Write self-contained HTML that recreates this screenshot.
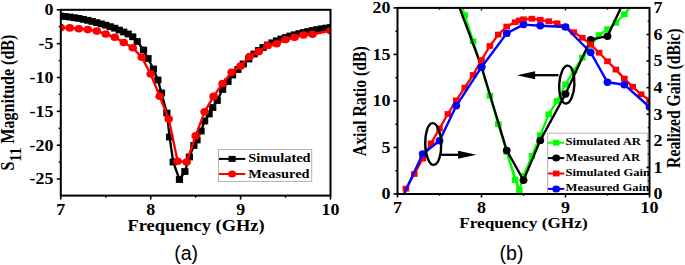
<!DOCTYPE html>
<html><head><meta charset="utf-8"><style>
html,body{margin:0;padding:0;background:#fff;}
svg{display:block;}
</style></head><body>
<svg width="685" height="265" viewBox="0 0 685 265">
<defs>
<clipPath id="clipA"><rect x="60.80" y="9.80" width="269.70" height="185.80"/></clipPath>
<clipPath id="clipB"><rect x="397.50" y="7.90" width="252.00" height="186.10"/></clipPath>
</defs>
<rect width="685" height="265" fill="#fff"/>
<g clip-path="url(#clipA)">
<polyline points="60.80,16.00 65.29,16.50 69.79,17.00 74.29,17.70 78.78,18.40 83.27,19.35 87.77,20.30 92.26,21.45 96.76,22.60 101.26,23.90 105.75,25.20 110.24,26.70 114.74,28.20 119.24,30.10 123.73,32.00 128.22,34.00 132.72,36.80 137.21,41.50 143.51,50.00 148.00,58.50 153.40,69.00 157.89,80.00 161.49,93.00 166.88,113.00 169.58,137.00 173.18,162.00 179.47,179.50 184.86,171.50 189.36,157.00 193.85,145.50 197.00,140.00 201.04,131.00 204.64,121.00 209.13,114.00 212.73,107.50 217.23,100.50 222.62,89.50 228.01,81.50 232.51,75.00 237.90,69.50 243.30,64.00 248.69,59.00 254.08,54.00 258.58,50.50 263.07,47.50 267.57,45.00 272.06,42.80 276.56,40.80 281.05,39.00 285.55,37.50 290.05,36.00 294.54,34.80 299.04,33.60 303.53,32.50 308.02,31.50 312.52,30.50 317.01,29.60 321.51,28.80 326.00,28.10 330.50,27.50" fill="none" stroke="#000" stroke-width="2.3" stroke-linejoin="round"/>
<rect x="57.20" y="12.60" width="7.2" height="6.8" fill="#000"/>
<rect x="61.69" y="13.10" width="7.2" height="6.8" fill="#000"/>
<rect x="66.19" y="13.60" width="7.2" height="6.8" fill="#000"/>
<rect x="70.69" y="14.30" width="7.2" height="6.8" fill="#000"/>
<rect x="75.18" y="15.00" width="7.2" height="6.8" fill="#000"/>
<rect x="79.67" y="15.95" width="7.2" height="6.8" fill="#000"/>
<rect x="84.17" y="16.90" width="7.2" height="6.8" fill="#000"/>
<rect x="88.66" y="18.05" width="7.2" height="6.8" fill="#000"/>
<rect x="93.16" y="19.20" width="7.2" height="6.8" fill="#000"/>
<rect x="97.66" y="20.50" width="7.2" height="6.8" fill="#000"/>
<rect x="102.15" y="21.80" width="7.2" height="6.8" fill="#000"/>
<rect x="106.64" y="23.30" width="7.2" height="6.8" fill="#000"/>
<rect x="111.14" y="24.80" width="7.2" height="6.8" fill="#000"/>
<rect x="115.64" y="26.70" width="7.2" height="6.8" fill="#000"/>
<rect x="120.13" y="28.60" width="7.2" height="6.8" fill="#000"/>
<rect x="124.62" y="30.60" width="7.2" height="6.8" fill="#000"/>
<rect x="129.12" y="33.40" width="7.2" height="6.8" fill="#000"/>
<rect x="133.61" y="38.10" width="7.2" height="6.8" fill="#000"/>
<rect x="139.91" y="46.60" width="7.2" height="6.8" fill="#000"/>
<rect x="144.40" y="55.10" width="7.2" height="6.8" fill="#000"/>
<rect x="149.80" y="65.60" width="7.2" height="6.8" fill="#000"/>
<rect x="154.29" y="76.60" width="7.2" height="6.8" fill="#000"/>
<rect x="157.89" y="89.60" width="7.2" height="6.8" fill="#000"/>
<rect x="163.28" y="109.60" width="7.2" height="6.8" fill="#000"/>
<rect x="165.98" y="133.60" width="7.2" height="6.8" fill="#000"/>
<rect x="169.58" y="158.60" width="7.2" height="6.8" fill="#000"/>
<rect x="175.87" y="176.10" width="7.2" height="6.8" fill="#000"/>
<rect x="181.26" y="168.10" width="7.2" height="6.8" fill="#000"/>
<rect x="185.76" y="153.60" width="7.2" height="6.8" fill="#000"/>
<rect x="190.25" y="142.10" width="7.2" height="6.8" fill="#000"/>
<rect x="193.40" y="136.60" width="7.2" height="6.8" fill="#000"/>
<rect x="197.44" y="127.60" width="7.2" height="6.8" fill="#000"/>
<rect x="201.04" y="117.60" width="7.2" height="6.8" fill="#000"/>
<rect x="205.53" y="110.60" width="7.2" height="6.8" fill="#000"/>
<rect x="209.13" y="104.10" width="7.2" height="6.8" fill="#000"/>
<rect x="213.63" y="97.10" width="7.2" height="6.8" fill="#000"/>
<rect x="219.02" y="86.10" width="7.2" height="6.8" fill="#000"/>
<rect x="224.41" y="78.10" width="7.2" height="6.8" fill="#000"/>
<rect x="228.91" y="71.60" width="7.2" height="6.8" fill="#000"/>
<rect x="234.30" y="66.10" width="7.2" height="6.8" fill="#000"/>
<rect x="239.70" y="60.60" width="7.2" height="6.8" fill="#000"/>
<rect x="245.09" y="55.60" width="7.2" height="6.8" fill="#000"/>
<rect x="250.48" y="50.60" width="7.2" height="6.8" fill="#000"/>
<rect x="254.98" y="47.10" width="7.2" height="6.8" fill="#000"/>
<rect x="259.47" y="44.10" width="7.2" height="6.8" fill="#000"/>
<rect x="263.97" y="41.60" width="7.2" height="6.8" fill="#000"/>
<rect x="268.46" y="39.40" width="7.2" height="6.8" fill="#000"/>
<rect x="272.96" y="37.40" width="7.2" height="6.8" fill="#000"/>
<rect x="277.45" y="35.60" width="7.2" height="6.8" fill="#000"/>
<rect x="281.95" y="34.10" width="7.2" height="6.8" fill="#000"/>
<rect x="286.44" y="32.60" width="7.2" height="6.8" fill="#000"/>
<rect x="290.94" y="31.40" width="7.2" height="6.8" fill="#000"/>
<rect x="295.44" y="30.20" width="7.2" height="6.8" fill="#000"/>
<rect x="299.93" y="29.10" width="7.2" height="6.8" fill="#000"/>
<rect x="304.42" y="28.10" width="7.2" height="6.8" fill="#000"/>
<rect x="308.92" y="27.10" width="7.2" height="6.8" fill="#000"/>
<rect x="313.41" y="26.20" width="7.2" height="6.8" fill="#000"/>
<rect x="317.91" y="25.40" width="7.2" height="6.8" fill="#000"/>
<rect x="322.40" y="24.70" width="7.2" height="6.8" fill="#000"/>
<rect x="326.90" y="24.10" width="7.2" height="6.8" fill="#000"/>
<polyline points="60.80,27.60 69.79,27.90 78.78,28.70 87.77,29.60 96.76,31.10 105.75,34.00 114.74,37.30 123.73,42.50 132.72,47.80 141.71,57.20 150.70,74.00 159.69,96.20 168.68,119.00 177.67,161.20 186.66,162.00 195.65,135.80 204.64,111.70 213.63,96.40 222.62,83.50 231.61,72.20 240.60,66.00 249.59,56.60 258.58,51.80 267.57,45.50 276.56,43.80 285.55,39.60 294.54,37.20 303.53,35.00 312.52,34.20 330.50,30.70" fill="none" stroke="#ff0000" stroke-width="2.4" stroke-linejoin="round"/>
<ellipse cx="60.80" cy="27.60" rx="4.3" ry="3.8" fill="#ff0000"/>
<ellipse cx="69.79" cy="27.90" rx="4.3" ry="3.8" fill="#ff0000"/>
<ellipse cx="78.78" cy="28.70" rx="4.3" ry="3.8" fill="#ff0000"/>
<ellipse cx="87.77" cy="29.60" rx="4.3" ry="3.8" fill="#ff0000"/>
<ellipse cx="96.76" cy="31.10" rx="4.3" ry="3.8" fill="#ff0000"/>
<ellipse cx="105.75" cy="34.00" rx="4.3" ry="3.8" fill="#ff0000"/>
<ellipse cx="114.74" cy="37.30" rx="4.3" ry="3.8" fill="#ff0000"/>
<ellipse cx="123.73" cy="42.50" rx="4.3" ry="3.8" fill="#ff0000"/>
<ellipse cx="132.72" cy="47.80" rx="4.3" ry="3.8" fill="#ff0000"/>
<ellipse cx="141.71" cy="57.20" rx="4.3" ry="3.8" fill="#ff0000"/>
<ellipse cx="150.70" cy="74.00" rx="4.3" ry="3.8" fill="#ff0000"/>
<ellipse cx="159.69" cy="96.20" rx="4.3" ry="3.8" fill="#ff0000"/>
<ellipse cx="168.68" cy="119.00" rx="4.3" ry="3.8" fill="#ff0000"/>
<ellipse cx="177.67" cy="161.20" rx="4.3" ry="3.8" fill="#ff0000"/>
<ellipse cx="186.66" cy="162.00" rx="4.3" ry="3.8" fill="#ff0000"/>
<ellipse cx="195.65" cy="135.80" rx="4.3" ry="3.8" fill="#ff0000"/>
<ellipse cx="204.64" cy="111.70" rx="4.3" ry="3.8" fill="#ff0000"/>
<ellipse cx="213.63" cy="96.40" rx="4.3" ry="3.8" fill="#ff0000"/>
<ellipse cx="222.62" cy="83.50" rx="4.3" ry="3.8" fill="#ff0000"/>
<ellipse cx="231.61" cy="72.20" rx="4.3" ry="3.8" fill="#ff0000"/>
<ellipse cx="240.60" cy="66.00" rx="4.3" ry="3.8" fill="#ff0000"/>
<ellipse cx="249.59" cy="56.60" rx="4.3" ry="3.8" fill="#ff0000"/>
<ellipse cx="258.58" cy="51.80" rx="4.3" ry="3.8" fill="#ff0000"/>
<ellipse cx="267.57" cy="45.50" rx="4.3" ry="3.8" fill="#ff0000"/>
<ellipse cx="276.56" cy="43.80" rx="4.3" ry="3.8" fill="#ff0000"/>
<ellipse cx="285.55" cy="39.60" rx="4.3" ry="3.8" fill="#ff0000"/>
<ellipse cx="294.54" cy="37.20" rx="4.3" ry="3.8" fill="#ff0000"/>
<ellipse cx="303.53" cy="35.00" rx="4.3" ry="3.8" fill="#ff0000"/>
<ellipse cx="312.52" cy="34.20" rx="4.3" ry="3.8" fill="#ff0000"/>
<ellipse cx="330.50" cy="30.70" rx="4.3" ry="3.8" fill="#ff0000"/>
</g>
<rect x="60.80" y="9.80" width="269.70" height="185.80" fill="none" stroke="#000" stroke-width="2"/>
<line x1="56.80" y1="9.80" x2="60.80" y2="9.80" stroke="#000" stroke-width="1.6" stroke-linecap="butt"/>
<text transform="translate(53.40,15.20) scale(1.12,1)" font-family="'Liberation Serif', serif" font-weight="bold" font-size="16" text-anchor="end" fill="#000">0</text>
<line x1="56.80" y1="43.65" x2="60.80" y2="43.65" stroke="#000" stroke-width="1.6" stroke-linecap="butt"/>
<text transform="translate(53.40,49.05) scale(1.12,1)" font-family="'Liberation Serif', serif" font-weight="bold" font-size="16" text-anchor="end" fill="#000">-5</text>
<line x1="56.80" y1="77.50" x2="60.80" y2="77.50" stroke="#000" stroke-width="1.6" stroke-linecap="butt"/>
<text transform="translate(53.40,82.90) scale(1.12,1)" font-family="'Liberation Serif', serif" font-weight="bold" font-size="16" text-anchor="end" fill="#000">-10</text>
<line x1="56.80" y1="111.35" x2="60.80" y2="111.35" stroke="#000" stroke-width="1.6" stroke-linecap="butt"/>
<text transform="translate(53.40,116.75) scale(1.12,1)" font-family="'Liberation Serif', serif" font-weight="bold" font-size="16" text-anchor="end" fill="#000">-15</text>
<line x1="56.80" y1="145.20" x2="60.80" y2="145.20" stroke="#000" stroke-width="1.6" stroke-linecap="butt"/>
<text transform="translate(53.40,150.60) scale(1.12,1)" font-family="'Liberation Serif', serif" font-weight="bold" font-size="16" text-anchor="end" fill="#000">-20</text>
<line x1="56.80" y1="179.05" x2="60.80" y2="179.05" stroke="#000" stroke-width="1.6" stroke-linecap="butt"/>
<text transform="translate(53.40,184.45) scale(1.12,1)" font-family="'Liberation Serif', serif" font-weight="bold" font-size="16" text-anchor="end" fill="#000">-25</text>
<line x1="58.60" y1="26.72" x2="60.80" y2="26.72" stroke="#000" stroke-width="1.4" stroke-linecap="butt"/>
<line x1="58.60" y1="60.58" x2="60.80" y2="60.58" stroke="#000" stroke-width="1.4" stroke-linecap="butt"/>
<line x1="58.60" y1="94.42" x2="60.80" y2="94.42" stroke="#000" stroke-width="1.4" stroke-linecap="butt"/>
<line x1="58.60" y1="128.28" x2="60.80" y2="128.28" stroke="#000" stroke-width="1.4" stroke-linecap="butt"/>
<line x1="58.60" y1="162.12" x2="60.80" y2="162.12" stroke="#000" stroke-width="1.4" stroke-linecap="butt"/>
<line x1="60.80" y1="195.60" x2="60.80" y2="199.60" stroke="#000" stroke-width="1.6" stroke-linecap="butt"/>
<text transform="translate(60.80,215.00) scale(1.12,1)" font-family="'Liberation Serif', serif" font-weight="bold" font-size="16" text-anchor="middle" fill="#000">7</text>
<line x1="150.70" y1="195.60" x2="150.70" y2="199.60" stroke="#000" stroke-width="1.6" stroke-linecap="butt"/>
<text transform="translate(150.70,215.00) scale(1.12,1)" font-family="'Liberation Serif', serif" font-weight="bold" font-size="16" text-anchor="middle" fill="#000">8</text>
<line x1="240.60" y1="195.60" x2="240.60" y2="199.60" stroke="#000" stroke-width="1.6" stroke-linecap="butt"/>
<text transform="translate(240.60,215.00) scale(1.12,1)" font-family="'Liberation Serif', serif" font-weight="bold" font-size="16" text-anchor="middle" fill="#000">9</text>
<line x1="330.50" y1="195.60" x2="330.50" y2="199.60" stroke="#000" stroke-width="1.6" stroke-linecap="butt"/>
<text transform="translate(330.50,215.00) scale(1.12,1)" font-family="'Liberation Serif', serif" font-weight="bold" font-size="16" text-anchor="middle" fill="#000">10</text>
<line x1="105.75" y1="195.60" x2="105.75" y2="197.80" stroke="#000" stroke-width="1.4" stroke-linecap="butt"/>
<line x1="195.65" y1="195.60" x2="195.65" y2="197.80" stroke="#000" stroke-width="1.4" stroke-linecap="butt"/>
<line x1="285.55" y1="195.60" x2="285.55" y2="197.80" stroke="#000" stroke-width="1.4" stroke-linecap="butt"/>
<text transform="translate(196.00,230.80) scale(1.15,1)" font-family="'Liberation Serif', serif" font-weight="bold" font-size="16" text-anchor="middle" fill="#000">Frequency (GHz)</text>
<text transform="translate(14.3,170.6) scale(1.15,1) rotate(-90)" font-family="&apos;Liberation Serif&apos;, serif" font-weight="bold" font-size="16">S<tspan font-size="15" dy="5.5">11</tspan><tspan dy="-5.5"> Magnitude (dB)</tspan></text>
<rect x="218.5" y="149.5" width="93.2" height="31.9" fill="#fff" stroke="#b4b4b4" stroke-width="1"/>
<line x1="219.00" y1="158.90" x2="245.30" y2="158.90" stroke="#000" stroke-width="2" stroke-linecap="butt"/>
<rect x="228.60" y="155.90" width="7" height="6" fill="#000"/>
<line x1="219.00" y1="174.00" x2="245.30" y2="174.00" stroke="#ff0000" stroke-width="2" stroke-linecap="butt"/>
<ellipse cx="232.10" cy="174.00" rx="4.0" ry="3.6" fill="#ff0000"/>
<text transform="translate(248.30,162.20) scale(1.15,1)" font-family="'Liberation Serif', serif" font-weight="bold" font-size="12.5" text-anchor="start" fill="#000">Simulated</text>
<text transform="translate(248.30,177.50) scale(1.15,1)" font-family="'Liberation Serif', serif" font-weight="bold" font-size="12.5" text-anchor="start" fill="#000">Measured</text>
<g clip-path="url(#clipB)">
<polyline points="456.30,-10.80 464.70,15.20 473.10,41.20 481.50,68.00 489.90,95.80 498.30,124.20 506.70,152.00 515.10,180.00 519.30,190.00 523.50,176.00 531.90,156.00 540.30,135.20 548.70,114.30 557.10,100.80 565.50,84.50 573.90,70.70 582.30,57.70 590.70,46.00 599.10,35.10 607.50,29.30 615.90,22.80 624.30,14.30 632.70,4.50 641.10,-5.00" fill="none" stroke="#00ff00" stroke-width="2.3" stroke-linejoin="round"/>
<line x1="506.70" y1="152.00" x2="519.30" y2="190.00" stroke="#00ff00" stroke-width="2.2" stroke-linecap="butt"/>
<rect x="453.00" y="-13.70" width="6.6" height="5.8" fill="#00ff00"/>
<rect x="461.40" y="12.30" width="6.6" height="5.8" fill="#00ff00"/>
<rect x="469.80" y="38.30" width="6.6" height="5.8" fill="#00ff00"/>
<rect x="478.20" y="65.10" width="6.6" height="5.8" fill="#00ff00"/>
<rect x="486.60" y="92.90" width="6.6" height="5.8" fill="#00ff00"/>
<rect x="495.00" y="121.30" width="6.6" height="5.8" fill="#00ff00"/>
<rect x="503.40" y="149.10" width="6.6" height="5.8" fill="#00ff00"/>
<rect x="511.80" y="177.10" width="6.6" height="5.8" fill="#00ff00"/>
<rect x="516.00" y="187.10" width="6.6" height="5.8" fill="#00ff00"/>
<rect x="520.20" y="173.10" width="6.6" height="5.8" fill="#00ff00"/>
<rect x="528.60" y="153.10" width="6.6" height="5.8" fill="#00ff00"/>
<rect x="537.00" y="132.30" width="6.6" height="5.8" fill="#00ff00"/>
<rect x="545.40" y="111.40" width="6.6" height="5.8" fill="#00ff00"/>
<rect x="553.80" y="97.90" width="6.6" height="5.8" fill="#00ff00"/>
<rect x="562.20" y="81.60" width="6.6" height="5.8" fill="#00ff00"/>
<rect x="570.60" y="67.80" width="6.6" height="5.8" fill="#00ff00"/>
<rect x="579.00" y="54.80" width="6.6" height="5.8" fill="#00ff00"/>
<rect x="587.40" y="43.10" width="6.6" height="5.8" fill="#00ff00"/>
<rect x="595.80" y="32.20" width="6.6" height="5.8" fill="#00ff00"/>
<rect x="604.20" y="26.40" width="6.6" height="5.8" fill="#00ff00"/>
<rect x="612.60" y="19.90" width="6.6" height="5.8" fill="#00ff00"/>
<rect x="621.00" y="11.40" width="6.6" height="5.8" fill="#00ff00"/>
<rect x="629.40" y="1.60" width="6.6" height="5.8" fill="#00ff00"/>
<rect x="637.80" y="-7.90" width="6.6" height="5.8" fill="#00ff00"/>
<polyline points="456.30,-1.00 481.50,66.50 506.70,150.40 523.50,180.30 540.30,140.40 565.50,94.00 590.70,39.60 607.50,36.20 624.30,0.60" fill="none" stroke="#000" stroke-width="2.3" stroke-linejoin="round"/>
<ellipse cx="456.30" cy="-1.00" rx="3.9" ry="3.7" fill="#000"/>
<ellipse cx="481.50" cy="66.50" rx="3.9" ry="3.7" fill="#000"/>
<ellipse cx="506.70" cy="150.40" rx="3.9" ry="3.7" fill="#000"/>
<ellipse cx="523.50" cy="180.30" rx="3.9" ry="3.7" fill="#000"/>
<ellipse cx="540.30" cy="140.40" rx="3.9" ry="3.7" fill="#000"/>
<ellipse cx="565.50" cy="94.00" rx="3.9" ry="3.7" fill="#000"/>
<ellipse cx="590.70" cy="39.60" rx="3.9" ry="3.7" fill="#000"/>
<ellipse cx="607.50" cy="36.20" rx="3.9" ry="3.7" fill="#000"/>
<ellipse cx="624.30" cy="0.60" rx="3.9" ry="3.7" fill="#000"/>
<polyline points="405.90,188.70 414.30,174.00 422.70,158.60 431.10,143.40 439.50,128.50 447.90,114.00 456.30,100.40 464.70,87.70 473.10,75.00 481.50,60.00 489.90,46.00 498.30,34.60 506.70,26.60 515.10,22.20 519.30,20.50 523.50,19.30 531.90,18.70 540.30,19.80 548.70,21.30 557.10,23.30 565.50,27.00 573.90,32.30 582.30,37.80 590.70,44.40 599.10,52.70 607.50,61.30 615.90,69.60 624.30,78.60 632.70,86.80 641.10,94.30 649.50,100.40" fill="none" stroke="#ff0000" stroke-width="2.3" stroke-linejoin="round"/>
<rect x="402.60" y="185.80" width="6.6" height="5.8" fill="#ff0000"/>
<rect x="411.00" y="171.10" width="6.6" height="5.8" fill="#ff0000"/>
<rect x="419.40" y="155.70" width="6.6" height="5.8" fill="#ff0000"/>
<rect x="427.80" y="140.50" width="6.6" height="5.8" fill="#ff0000"/>
<rect x="436.20" y="125.60" width="6.6" height="5.8" fill="#ff0000"/>
<rect x="444.60" y="111.10" width="6.6" height="5.8" fill="#ff0000"/>
<rect x="453.00" y="97.50" width="6.6" height="5.8" fill="#ff0000"/>
<rect x="461.40" y="84.80" width="6.6" height="5.8" fill="#ff0000"/>
<rect x="469.80" y="72.10" width="6.6" height="5.8" fill="#ff0000"/>
<rect x="478.20" y="57.10" width="6.6" height="5.8" fill="#ff0000"/>
<rect x="486.60" y="43.10" width="6.6" height="5.8" fill="#ff0000"/>
<rect x="495.00" y="31.70" width="6.6" height="5.8" fill="#ff0000"/>
<rect x="503.40" y="23.70" width="6.6" height="5.8" fill="#ff0000"/>
<rect x="511.80" y="19.30" width="6.6" height="5.8" fill="#ff0000"/>
<rect x="516.00" y="17.60" width="6.6" height="5.8" fill="#ff0000"/>
<rect x="520.20" y="16.40" width="6.6" height="5.8" fill="#ff0000"/>
<rect x="528.60" y="15.80" width="6.6" height="5.8" fill="#ff0000"/>
<rect x="537.00" y="16.90" width="6.6" height="5.8" fill="#ff0000"/>
<rect x="545.40" y="18.40" width="6.6" height="5.8" fill="#ff0000"/>
<rect x="553.80" y="20.40" width="6.6" height="5.8" fill="#ff0000"/>
<rect x="562.20" y="24.10" width="6.6" height="5.8" fill="#ff0000"/>
<rect x="570.60" y="29.40" width="6.6" height="5.8" fill="#ff0000"/>
<rect x="579.00" y="34.90" width="6.6" height="5.8" fill="#ff0000"/>
<rect x="587.40" y="41.50" width="6.6" height="5.8" fill="#ff0000"/>
<rect x="595.80" y="49.80" width="6.6" height="5.8" fill="#ff0000"/>
<rect x="604.20" y="58.40" width="6.6" height="5.8" fill="#ff0000"/>
<rect x="612.60" y="66.70" width="6.6" height="5.8" fill="#ff0000"/>
<rect x="621.00" y="75.70" width="6.6" height="5.8" fill="#ff0000"/>
<rect x="629.40" y="83.90" width="6.6" height="5.8" fill="#ff0000"/>
<rect x="637.80" y="91.40" width="6.6" height="5.8" fill="#ff0000"/>
<rect x="646.20" y="97.50" width="6.6" height="5.8" fill="#ff0000"/>
<polyline points="403.80,194.50 422.70,154.00 439.50,140.70 456.30,105.80 481.50,67.20 506.70,33.40 523.50,24.60 540.30,25.80 565.50,27.00 590.70,52.50 607.50,82.30 624.30,84.70 649.50,107.00" fill="none" stroke="#0000ff" stroke-width="2.4" stroke-linejoin="round"/>
<ellipse cx="422.70" cy="154.00" rx="3.9" ry="3.7" fill="#0000ff"/>
<ellipse cx="439.50" cy="140.70" rx="3.9" ry="3.7" fill="#0000ff"/>
<ellipse cx="456.30" cy="105.80" rx="3.9" ry="3.7" fill="#0000ff"/>
<ellipse cx="481.50" cy="67.20" rx="3.9" ry="3.7" fill="#0000ff"/>
<ellipse cx="506.70" cy="33.40" rx="3.9" ry="3.7" fill="#0000ff"/>
<ellipse cx="523.50" cy="24.60" rx="3.9" ry="3.7" fill="#0000ff"/>
<ellipse cx="540.30" cy="25.80" rx="3.9" ry="3.7" fill="#0000ff"/>
<ellipse cx="565.50" cy="27.00" rx="3.9" ry="3.7" fill="#0000ff"/>
<ellipse cx="590.70" cy="52.50" rx="3.9" ry="3.7" fill="#0000ff"/>
<ellipse cx="607.50" cy="82.30" rx="3.9" ry="3.7" fill="#0000ff"/>
<ellipse cx="624.30" cy="84.70" rx="3.9" ry="3.7" fill="#0000ff"/>
<ellipse cx="649.50" cy="107.00" rx="3.9" ry="3.7" fill="#0000ff"/>
</g>
<ellipse cx="433.2" cy="144.0" rx="8.0" ry="20.9" fill="none" stroke="#000" stroke-width="2.4" transform="rotate(-1.5 433.2 144)"/>
<line x1="440.50" y1="154.80" x2="459.00" y2="154.80" stroke="#000" stroke-width="2.3" stroke-linecap="butt"/>
<polygon points="458.1,150.8 476.3,154.8 458.1,158.7" fill="#000"/>
<ellipse cx="566.8" cy="84.6" rx="7.6" ry="19.0" fill="none" stroke="#000" stroke-width="2.4" transform="rotate(3 566.8 84.6)"/>
<line x1="558.50" y1="75.20" x2="534.00" y2="75.20" stroke="#000" stroke-width="2.3" stroke-linecap="butt"/>
<polygon points="535.1,71.2 517.0,75.2 535.1,79.3" fill="#000"/>
<rect x="547.6" y="133.2" width="100.2" height="61" fill="#fff" stroke="#b4b4b4" stroke-width="1"/>
<line x1="548.00" y1="142.70" x2="564.30" y2="142.70" stroke="#00ff00" stroke-width="2" stroke-linecap="butt"/>
<rect x="552.90" y="139.80" width="6.6" height="5.8" fill="#00ff00"/>
<text transform="translate(565.50,145.20) scale(1.15,1)" font-family="'Liberation Serif', serif" font-weight="bold" font-size="11" text-anchor="start" fill="#000">Simulated AR</text>
<line x1="548.00" y1="158.10" x2="564.30" y2="158.10" stroke="#000" stroke-width="2" stroke-linecap="butt"/>
<ellipse cx="556.20" cy="158.10" rx="3.9" ry="3.5" fill="#000"/>
<text transform="translate(565.50,160.60) scale(1.15,1)" font-family="'Liberation Serif', serif" font-weight="bold" font-size="11" text-anchor="start" fill="#000">Measured AR</text>
<line x1="548.00" y1="173.50" x2="564.30" y2="173.50" stroke="#ff0000" stroke-width="2" stroke-linecap="butt"/>
<rect x="552.90" y="170.60" width="6.6" height="5.8" fill="#ff0000"/>
<text transform="translate(565.50,176.00) scale(1.15,1)" font-family="'Liberation Serif', serif" font-weight="bold" font-size="11" text-anchor="start" fill="#000">Simulated Gain</text>
<line x1="548.00" y1="188.90" x2="564.30" y2="188.90" stroke="#0000ff" stroke-width="2" stroke-linecap="butt"/>
<ellipse cx="556.20" cy="188.90" rx="3.9" ry="3.5" fill="#0000ff"/>
<text transform="translate(565.50,191.40) scale(1.15,1)" font-family="'Liberation Serif', serif" font-weight="bold" font-size="11" text-anchor="start" fill="#000">Measured Gain</text>
<rect x="397.50" y="7.90" width="252.00" height="186.10" fill="none" stroke="#000" stroke-width="2"/>
<line x1="393.50" y1="194.00" x2="397.50" y2="194.00" stroke="#000" stroke-width="1.6" stroke-linecap="butt"/>
<text transform="translate(390.40,199.40) scale(1.12,1)" font-family="'Liberation Serif', serif" font-weight="bold" font-size="16" text-anchor="end" fill="#000">0</text>
<line x1="393.50" y1="147.47" x2="397.50" y2="147.47" stroke="#000" stroke-width="1.6" stroke-linecap="butt"/>
<text transform="translate(390.40,152.88) scale(1.12,1)" font-family="'Liberation Serif', serif" font-weight="bold" font-size="16" text-anchor="end" fill="#000">5</text>
<line x1="393.50" y1="100.95" x2="397.50" y2="100.95" stroke="#000" stroke-width="1.6" stroke-linecap="butt"/>
<text transform="translate(390.40,106.35) scale(1.12,1)" font-family="'Liberation Serif', serif" font-weight="bold" font-size="16" text-anchor="end" fill="#000">10</text>
<line x1="393.50" y1="54.43" x2="397.50" y2="54.43" stroke="#000" stroke-width="1.6" stroke-linecap="butt"/>
<text transform="translate(390.40,59.83) scale(1.12,1)" font-family="'Liberation Serif', serif" font-weight="bold" font-size="16" text-anchor="end" fill="#000">15</text>
<line x1="393.50" y1="7.90" x2="397.50" y2="7.90" stroke="#000" stroke-width="1.6" stroke-linecap="butt"/>
<text transform="translate(390.40,13.30) scale(1.12,1)" font-family="'Liberation Serif', serif" font-weight="bold" font-size="16" text-anchor="end" fill="#000">20</text>
<line x1="395.30" y1="170.74" x2="397.50" y2="170.74" stroke="#000" stroke-width="1.4" stroke-linecap="butt"/>
<line x1="395.30" y1="124.21" x2="397.50" y2="124.21" stroke="#000" stroke-width="1.4" stroke-linecap="butt"/>
<line x1="395.30" y1="77.69" x2="397.50" y2="77.69" stroke="#000" stroke-width="1.4" stroke-linecap="butt"/>
<line x1="395.30" y1="31.16" x2="397.50" y2="31.16" stroke="#000" stroke-width="1.4" stroke-linecap="butt"/>
<line x1="649.50" y1="194.00" x2="646.50" y2="194.00" stroke="#000" stroke-width="1.6" stroke-linecap="butt"/>
<text transform="translate(653.40,199.40) scale(1.12,1)" font-family="'Liberation Serif', serif" font-weight="bold" font-size="16" text-anchor="start" fill="#000">0</text>
<line x1="649.50" y1="167.41" x2="646.50" y2="167.41" stroke="#000" stroke-width="1.6" stroke-linecap="butt"/>
<text transform="translate(653.40,172.81) scale(1.12,1)" font-family="'Liberation Serif', serif" font-weight="bold" font-size="16" text-anchor="start" fill="#000">1</text>
<line x1="649.50" y1="140.83" x2="646.50" y2="140.83" stroke="#000" stroke-width="1.6" stroke-linecap="butt"/>
<text transform="translate(653.40,146.23) scale(1.12,1)" font-family="'Liberation Serif', serif" font-weight="bold" font-size="16" text-anchor="start" fill="#000">2</text>
<line x1="649.50" y1="114.24" x2="646.50" y2="114.24" stroke="#000" stroke-width="1.6" stroke-linecap="butt"/>
<text transform="translate(653.40,119.64) scale(1.12,1)" font-family="'Liberation Serif', serif" font-weight="bold" font-size="16" text-anchor="start" fill="#000">3</text>
<line x1="649.50" y1="87.66" x2="646.50" y2="87.66" stroke="#000" stroke-width="1.6" stroke-linecap="butt"/>
<text transform="translate(653.40,93.06) scale(1.12,1)" font-family="'Liberation Serif', serif" font-weight="bold" font-size="16" text-anchor="start" fill="#000">4</text>
<line x1="649.50" y1="61.07" x2="646.50" y2="61.07" stroke="#000" stroke-width="1.6" stroke-linecap="butt"/>
<text transform="translate(653.40,66.47) scale(1.12,1)" font-family="'Liberation Serif', serif" font-weight="bold" font-size="16" text-anchor="start" fill="#000">5</text>
<line x1="649.50" y1="34.49" x2="646.50" y2="34.49" stroke="#000" stroke-width="1.6" stroke-linecap="butt"/>
<text transform="translate(653.40,39.89) scale(1.12,1)" font-family="'Liberation Serif', serif" font-weight="bold" font-size="16" text-anchor="start" fill="#000">6</text>
<line x1="649.50" y1="7.90" x2="646.50" y2="7.90" stroke="#000" stroke-width="1.6" stroke-linecap="butt"/>
<text transform="translate(653.40,13.30) scale(1.12,1)" font-family="'Liberation Serif', serif" font-weight="bold" font-size="16" text-anchor="start" fill="#000">7</text>
<line x1="649.50" y1="180.71" x2="647.70" y2="180.71" stroke="#000" stroke-width="1.4" stroke-linecap="butt"/>
<line x1="649.50" y1="154.12" x2="647.70" y2="154.12" stroke="#000" stroke-width="1.4" stroke-linecap="butt"/>
<line x1="649.50" y1="127.54" x2="647.70" y2="127.54" stroke="#000" stroke-width="1.4" stroke-linecap="butt"/>
<line x1="649.50" y1="100.95" x2="647.70" y2="100.95" stroke="#000" stroke-width="1.4" stroke-linecap="butt"/>
<line x1="649.50" y1="74.36" x2="647.70" y2="74.36" stroke="#000" stroke-width="1.4" stroke-linecap="butt"/>
<line x1="649.50" y1="47.78" x2="647.70" y2="47.78" stroke="#000" stroke-width="1.4" stroke-linecap="butt"/>
<line x1="649.50" y1="21.19" x2="647.70" y2="21.19" stroke="#000" stroke-width="1.4" stroke-linecap="butt"/>
<line x1="397.50" y1="194.00" x2="397.50" y2="197.50" stroke="#000" stroke-width="1.6" stroke-linecap="butt"/>
<text transform="translate(397.50,212.60) scale(1.12,1)" font-family="'Liberation Serif', serif" font-weight="bold" font-size="16" text-anchor="middle" fill="#000">7</text>
<line x1="481.50" y1="194.00" x2="481.50" y2="197.50" stroke="#000" stroke-width="1.6" stroke-linecap="butt"/>
<text transform="translate(481.50,212.60) scale(1.12,1)" font-family="'Liberation Serif', serif" font-weight="bold" font-size="16" text-anchor="middle" fill="#000">8</text>
<line x1="565.50" y1="194.00" x2="565.50" y2="197.50" stroke="#000" stroke-width="1.6" stroke-linecap="butt"/>
<text transform="translate(565.50,212.60) scale(1.12,1)" font-family="'Liberation Serif', serif" font-weight="bold" font-size="16" text-anchor="middle" fill="#000">9</text>
<line x1="649.50" y1="194.00" x2="649.50" y2="197.50" stroke="#000" stroke-width="1.6" stroke-linecap="butt"/>
<text transform="translate(649.50,212.60) scale(1.12,1)" font-family="'Liberation Serif', serif" font-weight="bold" font-size="16" text-anchor="middle" fill="#000">10</text>
<line x1="439.50" y1="194.00" x2="439.50" y2="195.80" stroke="#000" stroke-width="1.4" stroke-linecap="butt"/>
<line x1="439.50" y1="7.90" x2="439.50" y2="9.70" stroke="#000" stroke-width="1.4" stroke-linecap="butt"/>
<line x1="523.50" y1="194.00" x2="523.50" y2="195.80" stroke="#000" stroke-width="1.4" stroke-linecap="butt"/>
<line x1="523.50" y1="7.90" x2="523.50" y2="9.70" stroke="#000" stroke-width="1.4" stroke-linecap="butt"/>
<line x1="607.50" y1="194.00" x2="607.50" y2="195.80" stroke="#000" stroke-width="1.4" stroke-linecap="butt"/>
<line x1="607.50" y1="7.90" x2="607.50" y2="9.70" stroke="#000" stroke-width="1.4" stroke-linecap="butt"/>
<line x1="481.50" y1="7.90" x2="481.50" y2="10.40" stroke="#000" stroke-width="1.4" stroke-linecap="butt"/>
<line x1="565.50" y1="7.90" x2="565.50" y2="10.40" stroke="#000" stroke-width="1.4" stroke-linecap="butt"/>
<text transform="translate(523.40,227.60) scale(1.15,1)" font-family="'Liberation Serif', serif" font-weight="bold" font-size="15" text-anchor="middle" fill="#000">Frequency (GHz)</text>
<text transform="translate(365.80,156.20) scale(1.15,1) rotate(-90)" font-family="'Liberation Serif', serif" font-weight="bold" font-size="15.7" text-anchor="start" fill="#000">Axial Ratio (dB)</text>
<text transform="translate(680.40,167.90) scale(1.15,1) rotate(-90)" font-family="'Liberation Serif', serif" font-weight="bold" font-size="15.7" text-anchor="start" fill="#000">Realized Gain (dBic)</text>
<text transform="translate(186.20,259.60) scale(1,1)" font-family="'Liberation Sans', sans-serif" font-weight="normal" font-size="19.5" text-anchor="middle" fill="#000">(a)</text>
<text transform="translate(511.50,259.60) scale(1,1)" font-family="'Liberation Sans', sans-serif" font-weight="normal" font-size="19.5" text-anchor="middle" fill="#000">(b)</text>
</svg>
</body></html>
